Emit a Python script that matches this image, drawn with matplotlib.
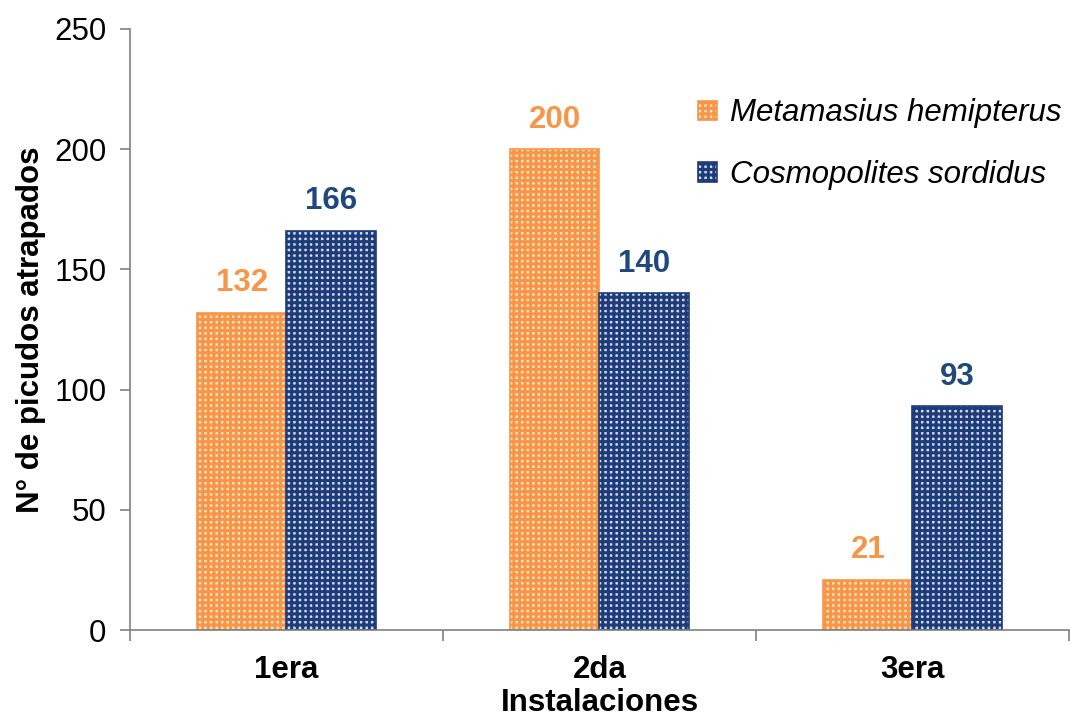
import matplotlib.pyplot as plt
import numpy as np

# data
categories = ['1era', '2da', '3era']
metamasius = [132, 200, 21]
cosmopolites = [166, 140, 93]
series_names = ['Metamasius hemipterus', 'Cosmopolites sordidus']

orange = '#F79646'
navy = '#1F3C7A'
orange_txt = '#F79646'
navy_txt = '#1F497D'

plt.rcParams['font.family'] = ['Liberation Sans', 'DejaVu Sans']
plt.rcParams['hatch.linewidth'] = 2.2

fig = plt.figure(figsize=(10.7, 7.22), dpi=100)
ax = fig.add_axes([0.1215, 0.1274, 0.8775, 0.8326])

x = np.arange(len(categories))
w = 0.285
ax.bar(x - w / 2, metamasius, w, facecolor='#FDE3CC', edgecolor=orange,
       hatch='+++', linewidth=1.2, label=series_names[0])
ax.bar(x + w / 2, cosmopolites, w, facecolor='#D5DCEB', edgecolor=navy,
       hatch='+++', linewidth=1.2, label=series_names[1])

fs = 22.5
for xi, v in zip(x, metamasius):
    ax.text(xi - w / 2, v + 6, str(v), ha='center', va='bottom',
            fontsize=fs, fontweight='bold', color=orange_txt)
for xi, v in zip(x, cosmopolites):
    ax.text(xi + w / 2, v + 6, str(v), ha='center', va='bottom',
            fontsize=fs, fontweight='bold', color=navy_txt)

ax.set_xlim(-0.5, 2.5)
ax.set_ylim(0, 250)
ax.set_yticks([0, 50, 100, 150, 200, 250])
ax.set_xticks(x)
ax.set_xticklabels(categories, fontsize=fs, fontweight='bold')
ax.set_xticks([-0.5, 0.5, 1.5, 2.5], minor=True)
ax.tick_params(axis='x', which='major', length=0, pad=18)
ax.tick_params(axis='x', which='minor', length=8, width=1.2, color='#808080', direction='out')
ax.tick_params(axis='y', labelsize=fs, length=7, width=1.2, color='#808080', direction='out', pad=10)

for s in ['top', 'right']:
    ax.spines[s].set_visible(False)
for s in ['left', 'bottom']:
    ax.spines[s].set_color('#808080')
    ax.spines[s].set_linewidth(1.2)

ax.set_xlabel('Instalaciones', fontsize=fs, fontweight='bold', labelpad=2)
ax.set_ylabel('N° de picudos atrapados', fontsize=fs, fontweight='bold', labelpad=6)

ax.legend(loc='upper right', bbox_to_anchor=(1.005, 0.905), borderaxespad=0,
          frameon=False, prop={'style': 'italic', 'size': fs}, handlelength=0.6,
          handleheight=0.6, handletextpad=0.4, labelspacing=1.0)

plt.savefig('out.png', dpi=100)
